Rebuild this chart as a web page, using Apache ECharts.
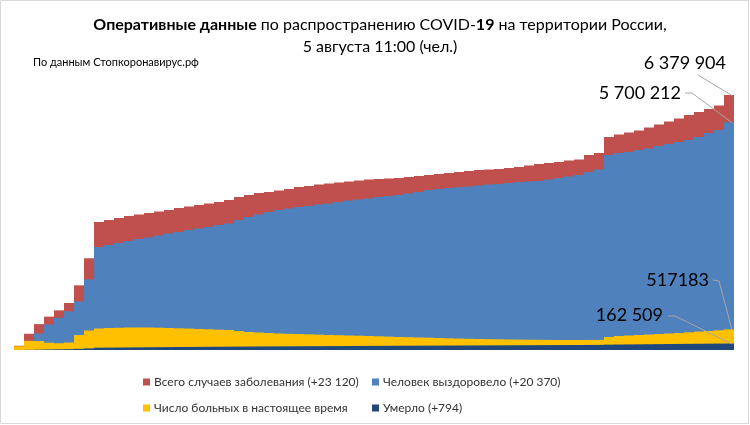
<!DOCTYPE html>
<html><head><meta charset="utf-8">
<script src="https://cdn.jsdelivr.net/npm/echarts@6/dist/echarts.min.js"></script>
<style>html,body{margin:0;padding:0;background:#fff}#c{width:750px;height:425px}</style>
</head><body><div id="c"></div>
<script>
// Values in thousands of people. First 8 entries: month-end snapshots (Apr–Nov 2020), then 2021 samples.
const totalCases = [106.5, 405.8, 647.8, 834.5, 992.4, 1176.3, 1618.1, 2295.7,
 3202.4, 3252.5, 3302.5, 3352.5, 3390.1, 3427.6, 3465.1, 3502.7, 3552.7, 3590.2,
 3627.8, 3665.3, 3702.8, 3752.9, 3827.9, 3877.9, 3928.0, 3953.0, 3990.5, 4028.1,
 4078.1, 4103.1, 4140.6, 4165.7, 4190.7, 4215.7, 4240.7, 4265.7, 4278.2, 4290.8,
 4303.3, 4328.3, 4353.3, 4378.3, 4403.3, 4428.4, 4453.4, 4478.4, 4503.4, 4515.9,
 4528.4, 4553.5, 4578.5, 4616.0, 4653.5, 4678.6, 4703.6, 4741.1, 4766.1, 4878.7,
 4928.7, 5329.0, 5391.6, 5441.6, 5491.7, 5566.7, 5641.8, 5716.8, 5791.9, 5879.5,
 5954.5, 6029.6, 6117.2, 6379.904];
const recovered = [11.6, 171.9, 412.7, 637.3, 805.9, 968.9, 1216.5, 1767.0,
 2577.0, 2627.0, 2677.0, 2727.1, 2777.1, 2814.6, 2864.7, 2914.7, 2952.2, 3002.3,
 3039.8, 3077.3, 3127.4, 3164.9, 3252.5, 3327.5, 3390.1, 3452.6, 3502.7, 3540.2,
 3577.7, 3602.7, 3640.3, 3665.3, 3702.8, 3740.3, 3765.4, 3790.4, 3827.9, 3852.9,
 3877.9, 3915.5, 3953.0, 4003.0, 4028.1, 4053.1, 4070.6, 4090.6, 4115.6, 4140.6,
 4153.2, 4178.2, 4203.2, 4215.7, 4228.2, 4265.7, 4303.3, 4340.8, 4378.3, 4453.4,
 4515.9, 4878.7, 4928.7, 4953.8, 5003.8, 5041.3, 5103.9, 5153.9, 5204.0, 5254.0,
 5329.0, 5429.1, 5504.2, 5700.212];
const activeCases = [93.8, 229.3, 225.9, 183.2, 169.4, 186.7, 373.6, 489.2,
 537.9, 550.4, 555.4, 562.9, 563.5, 562.5, 557.9, 550.4, 542.9, 535.4,
 525.4, 517.9, 507.9, 500.4, 475.4, 450.3, 437.8, 425.3, 412.8, 405.3,
 400.3, 392.8, 385.3, 375.3, 370.3, 362.8, 357.8, 350.3, 342.8, 335.3,
 325.2, 320.2, 312.7, 307.7, 300.2, 292.7, 285.2, 280.2, 275.2, 270.2,
 267.7, 262.7, 260.2, 257.7, 255.2, 252.7, 250.2, 251.0, 249.5, 251.5,
 253.0, 325.2, 350.3, 362.8, 375.3, 387.8, 400.3, 412.8, 425.3, 442.8,
 460.3, 475.4, 492.9, 517.183];
const deaths = [1.1, 4.7, 9.3, 14.0, 17.1, 20.7, 28.0, 39.5,
 57.6, 59.8, 62.1, 64.4, 66.6, 68.8, 70.9, 72.9, 74.8, 76.7,
 78.5, 80.2, 81.9, 83.6, 85.2, 86.8, 88.3, 89.7, 91.1, 92.4,
 93.8, 95.1, 96.4, 97.7, 98.9, 100.2, 101.4, 102.6, 103.8, 105.0,
 106.2, 107.3, 108.5, 109.6, 110.7, 111.8, 112.9, 113.9, 115.0, 116.0,
 117.0, 118.0, 119.1, 120.1, 121.1, 122.2, 123.3, 124.4, 125.5, 126.6,
 127.7, 134.4, 137.0, 139.6, 142.0, 144.5, 146.9, 149.3, 151.7, 154.1,
 156.4, 158.6, 160.7, 162.509];
const seriesNames = ['Всего случаев заболевания (+23 120)', 'Человек выздоровело (+20 370)',
 'Число больных в настоящее время', 'Умерло (+794)'];
const endLabels = ['6 379 904', '5 700 212', '517183', '162 509'];
const categories = totalCases.map((_, i) => String(i));
const allSeries = [totalCases, recovered, activeCases, deaths];

const F = 'Lato, "Open Sans", sans-serif';
const colors = ['#C0504D', '#4F81BD', '#FFC000', '#1F497D'];
const labelPos = [[726, 63], [681, 93], [709, 280], [663, 315]];
// leader line start points (pixel) next to each label
const leaderStart = [[[698, 75]], [[685, 93], [692, 93]], [[713, 280], [719, 281]], [[668, 316], [675, 316]]];
const lastIdx = totalCases.length - 1;

function mkSeries(k, arr) {
  return {
    name: seriesNames[k], type: 'bar', barGap: '-100%', barCategoryGap: '0%',
    itemStyle: { color: colors[k] }, z: 2 + k, silent: true,
    label: { show: false },
    labelLayout: p => p.dataIndex === lastIdx ? { x: labelPos[k][0], y: labelPos[k][1], align: 'right', verticalAlign: 'middle' } : {},
    data: arr.map((v, i) => i === lastIdx ? {
      value: v * 1000,
      label: { show: true, formatter: endLabels[k], fontSize: 18, color: '#000', fontFamily: F }
    } : v * 1000)
  };
}

const chart = echarts.init(document.getElementById('c'), null, { renderer: 'canvas' });
const legends = seriesNames.map((n, k) => ({
  data: [n], left: k % 2 === 0 ? 138 : 367, top: k < 2 ? 371 : 397,
  icon: 'rect', itemWidth: 7, itemHeight: 7, itemGap: 0, selectedMode: false,
  textStyle: { fontSize: 12, color: '#333', fontFamily: F, padding: [0, 0, 0, -1] }
}));
chart.setOption({
  animation: false,
  backgroundColor: '#fff',
  title: [{
    left: 375, top: 9, textAlign: 'center',
    text: '{b|Оперативные данные}{n| по распространению COVID-}{b|19}{n| на территории России,}\n{n|5 августа 11:00 (чел.)}',
    textStyle: { rich: {
      b: { fontWeight: 'bold', fontSize: 16, fontFamily: F, color: '#000', lineHeight: 22 },
      n: { fontWeight: 'normal', fontSize: 16, fontFamily: F, color: '#000', lineHeight: 22 } } }
  }, {
    left: 33, top: 57, padding: 0, text: 'По данным Стопкоронавирус.рф',
    textStyle: { fontSize: 11, fontWeight: 'normal', fontFamily: F, color: '#000' }
  }],
  legend: legends,
  grid: { left: 14, right: 16, top: 80, bottom: 75 },
  xAxis: { type: 'category', data: categories, show: false, boundaryGap: true },
  yAxis: { type: 'value', min: 0, max: 6755000, show: false },
  series: allSeries.map((arr, k) => mkSeries(k, arr))
});

// leader lines: end points come from the chart's own scales (last bar's value)
const lines = allSeries.map((arr, k) => {
  const p = chart.convertToPixel({ gridIndex: 0 }, [lastIdx, arr[lastIdx] * 1000]);
  const pts = leaderStart[k].concat([[p[0] + 3, p[1] + 0.5]]);
  return { type: 'polyline', shape: { points: pts }, style: { stroke: '#A6A6A6', lineWidth: 1, fill: null }, silent: true, z: 50 };
});
lines.push({ type: 'rect', shape: { x: 0.5, y: 0.5, width: 748, height: 423 }, style: { fill: 'none', stroke: '#D9D9D9', lineWidth: 1 }, silent: true, z: 100 });
chart.setOption({ graphic: lines });
</script></body></html>
